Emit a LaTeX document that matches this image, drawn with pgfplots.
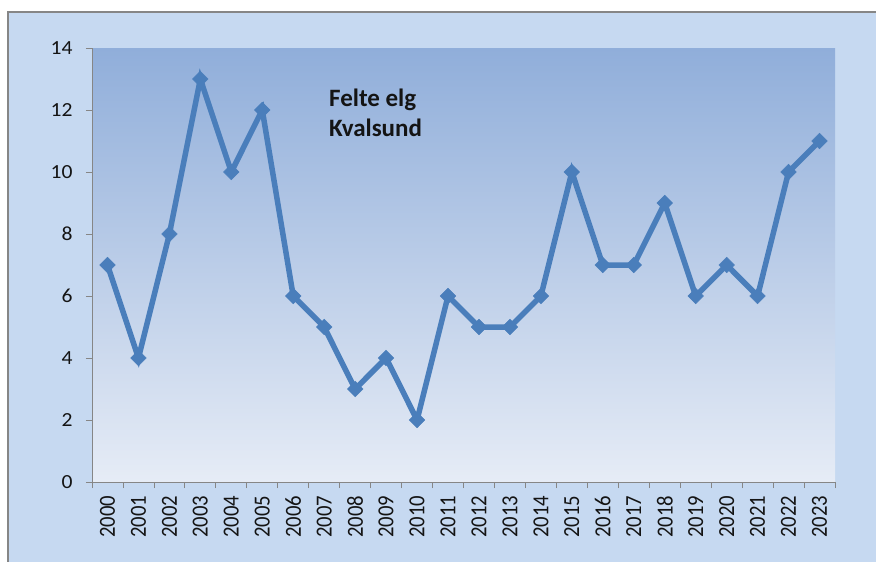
\documentclass[border=0pt]{standalone}
\usepackage{fontspec}
\setmainfont{Carlito}
\newfontfamily\yearfont[FakeStretch=0.9]{Carlito}
\newfontfamily\yfont[FakeStretch=1.08]{Carlito}
\usepackage{pgfplots}
\pgfplotsset{compat=1.18}
\definecolor{outerbg}{RGB}{198,217,241}
\definecolor{gradtop}{RGB}{144,174,218}
\definecolor{gradbot}{RGB}{230,236,246}
\definecolor{linecol}{RGB}{74,126,187}
\definecolor{axiscol}{RGB}{134,134,134}
\definecolor{txt}{RGB}{20,20,20}
\begin{document}
\begin{tikzpicture}[x=1pt,y=1pt]
\useasboundingbox (0,0) rectangle (876,-562);
\fill[white] (0,0) rectangle (876,-562);
\fill[outerbg] (8,-12) rectangle (876,-562);
\draw[axiscol, line width=1.2pt] (8,-562) -- (8,-12) -- (876,-12);
\begin{axis}[
  at={(92pt,-482pt)}, anchor=south west,
  scale only axis, width=743pt, height=434pt,
  xmin=-0.5, xmax=23.5, ymin=0, ymax=14,
  axis x line*=bottom, axis y line*=left,
  axis line style={draw=axiscol, line width=0.9pt, -},
  axis background/.style={shade, top color=gradtop, bottom color=gradbot},
  xtick={0,...,23},
  xticklabels={2000,2001,2002,2003,2004,2005,2006,2007,2008,2009,2010,2011,2012,2013,2014,2015,2016,2017,2018,2019,2020,2021,2022,2023},
  x tick label style={rotate=90, anchor=east, font=\yearfont\fontsize{23}{23}\selectfont, text=txt},
  major x tick style={draw=none},
  minor xtick={-0.5,0.5,...,23.5},
  minor x tick style={draw=axiscol, line width=0.8pt},
  minor tick length=6pt,
  ytick={0,2,...,14},
  y tick label style={font=\yfont\fontsize{20}{20}\selectfont, text=txt},
  y tick style={draw=axiscol, line width=0.8pt},
  major tick length=6pt,
  tick align=outside,
  xticklabel shift=4pt,
  yticklabel shift=10pt,
  /pgf/number format/assume math mode=true,
  clip=false,
]
\addplot[color=linecol, line width=5.5pt, mark=square*, mark size=5.5pt,
  mark options={rotate=45, fill=linecol, draw=linecol, line width=0.5pt}]
coordinates {
(0,7) (1,4) (2,8) (3,13) (4,10) (5,12) (6,6) (7,5) (8,3) (9,4) (10,2) (11,6)
(12,5) (13,5) (14,6) (15,10) (16,7) (17,7) (18,9) (19,6) (20,7) (21,6) (22,10) (23,11)
};
\end{axis}
\node[anchor=north west, align=left, inner sep=0pt, text=txt,
  font=\bfseries\fontsize{25}{30}\selectfont] at (329,-89) {Felte elg\\Kvalsund};
\end{tikzpicture}
\end{document}
